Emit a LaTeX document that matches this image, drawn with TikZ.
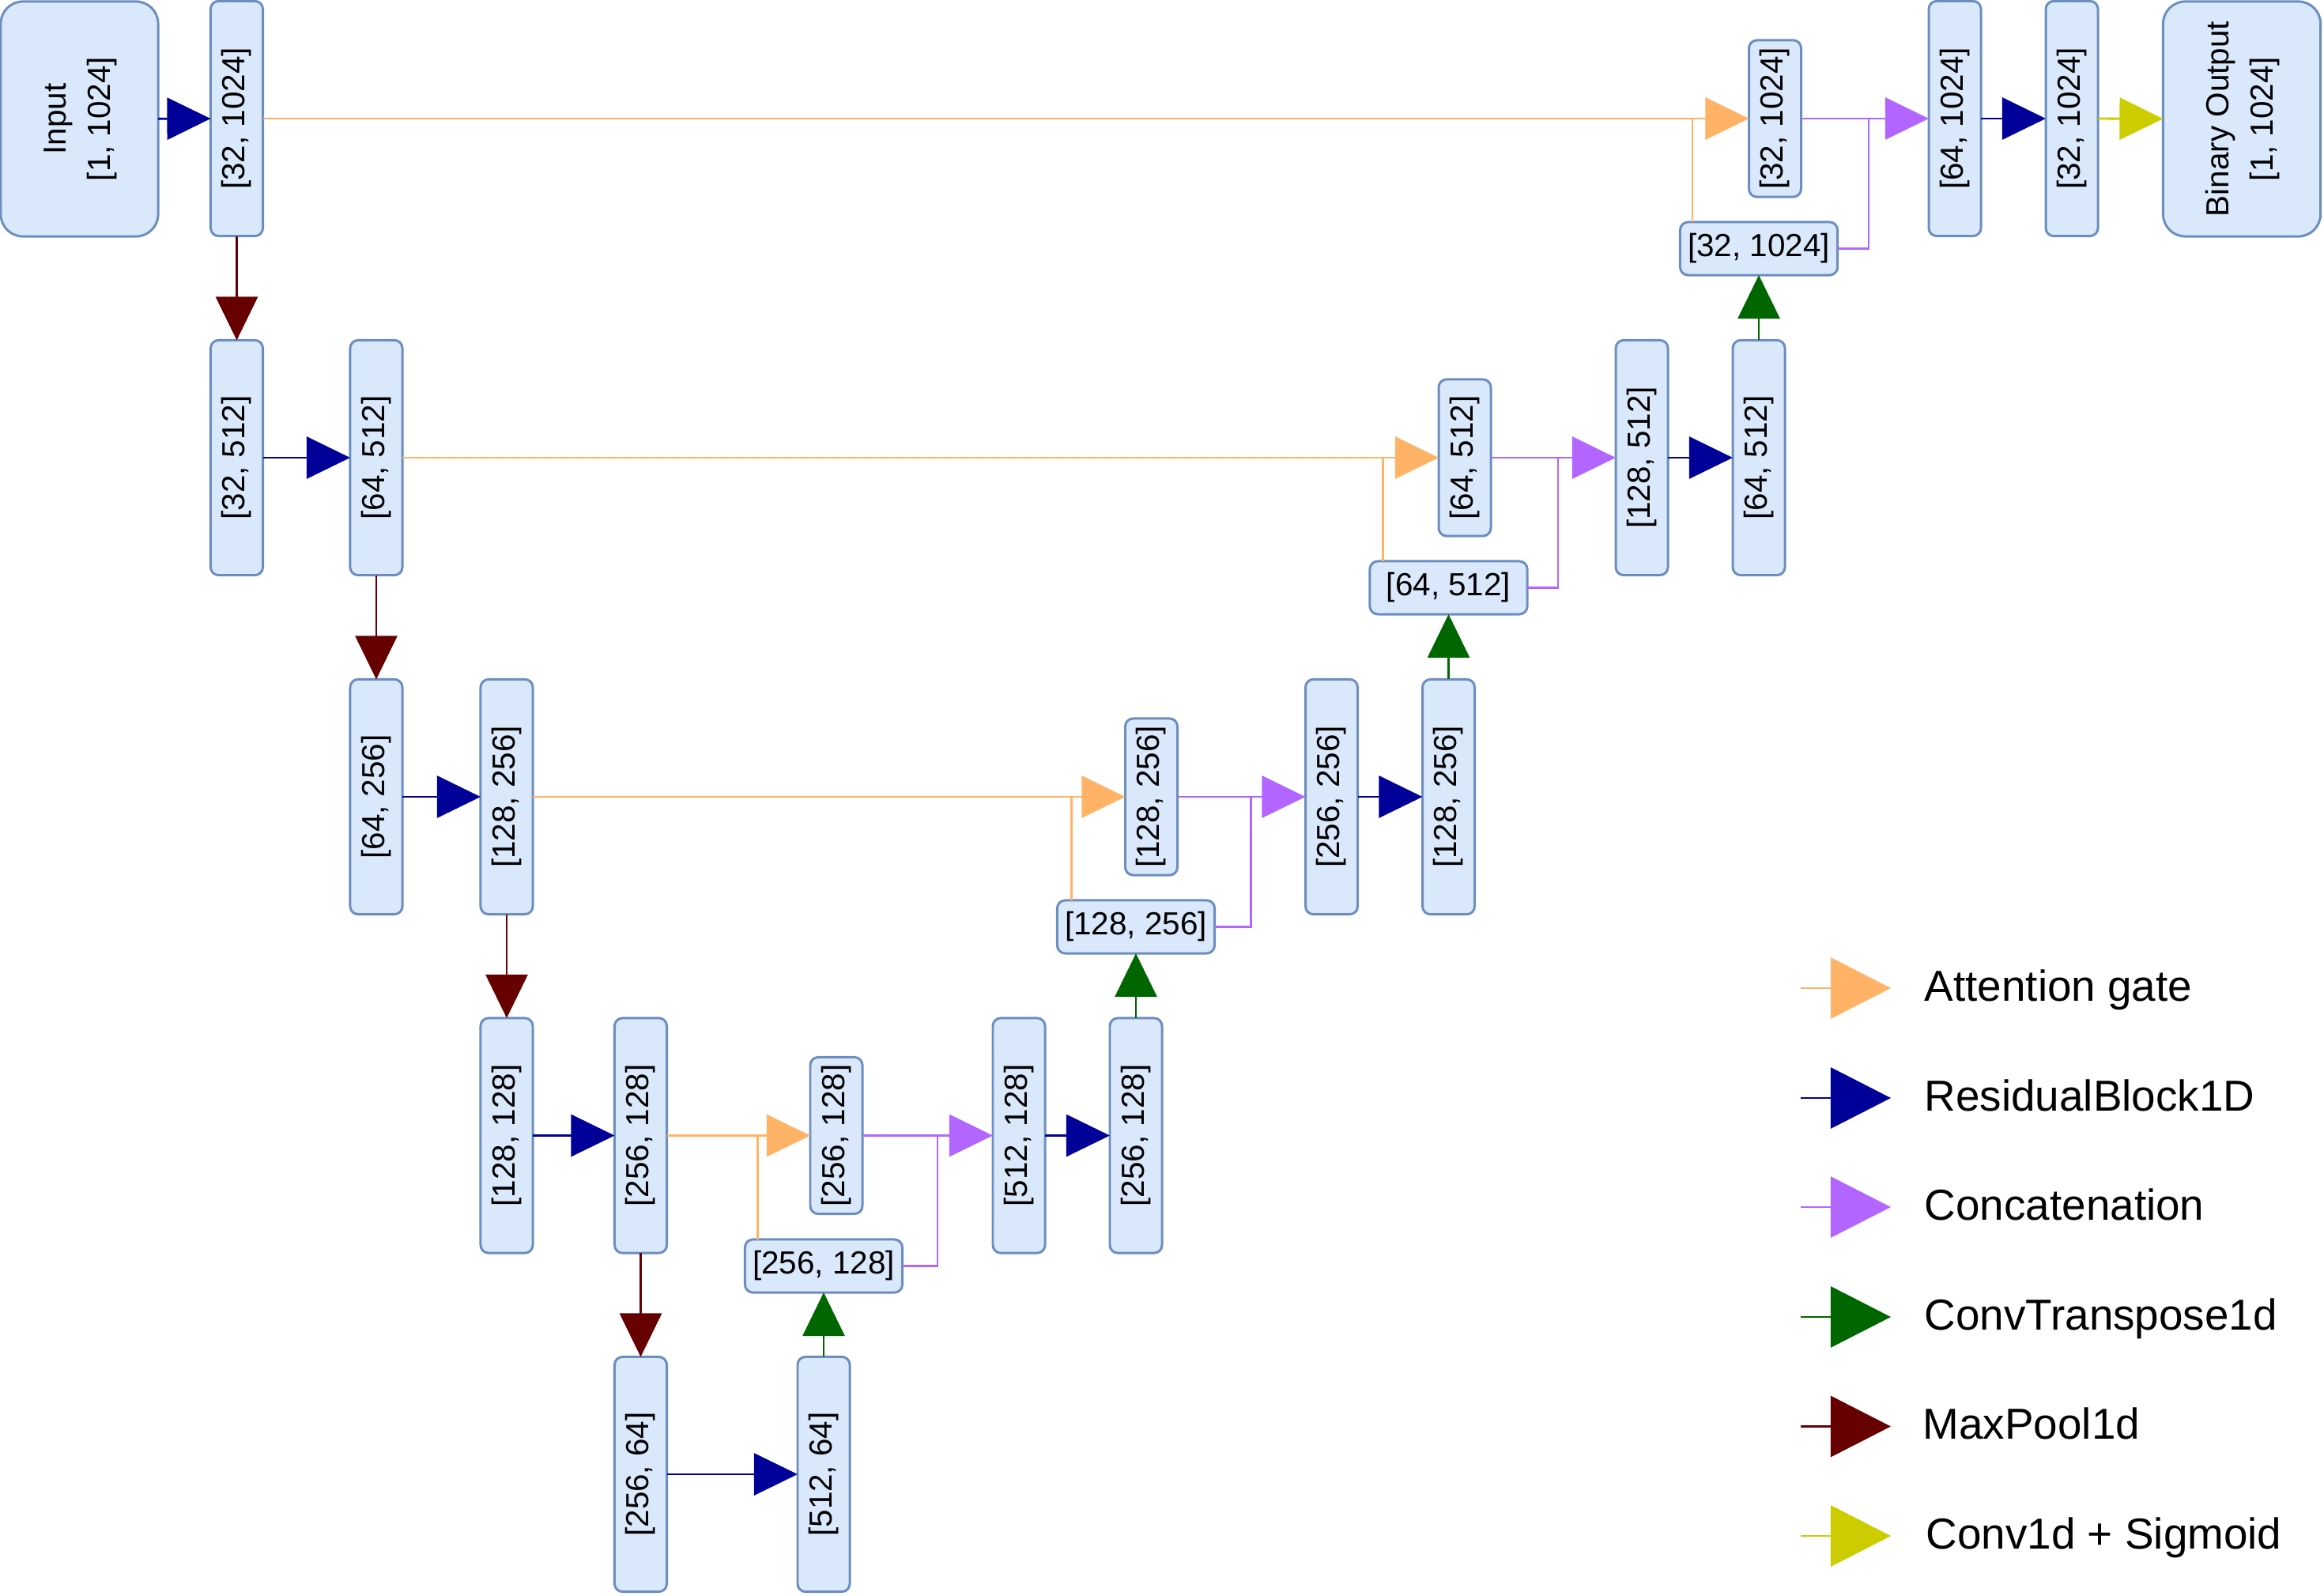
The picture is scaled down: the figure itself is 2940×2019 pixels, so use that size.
\documentclass[tikz,border=0pt]{standalone}
\usepackage{fontspec}
\setmainfont{Liberation Sans}
\usetikzlibrary{arrows.meta,calc}
\definecolor{boxfill}{HTML}{DAE8FC}
\definecolor{boxline}{HTML}{6C8EBF}
\definecolor{corange}{HTML}{FFB366}
\definecolor{cblue}{HTML}{000099}
\definecolor{cpurple}{HTML}{B266FF}
\definecolor{cgreen}{HTML}{006600}
\definecolor{cmaroon}{HTML}{660000}
\definecolor{cyellow}{HTML}{CCCC00}
\newcommand{\vlab}[1]{\rotatebox{90}{#1}}
\tikzset{
  blk/.style={draw=boxline, fill=boxfill, line width=0.85pt, rounded corners=0.1cm,
    inner sep=0pt, outer sep=0pt, font=\fontsize{11.5}{16}\selectfont},
  tall/.style={blk, minimum width=0.66cm, minimum height=2.97cm},
  short/.style={blk, minimum width=0.66cm, minimum height=1.98cm},
  wide/.style={blk, minimum width=1.99cm, minimum height=0.67cm},
  io/.style={blk, rounded corners=0.28cm, minimum width=1.99cm, minimum height=2.97cm},
  arr/.style={line width=0.8pt, -{Triangle[length=0.55cm,width=0.53cm]}},
  res/.style={arr, color=cblue},
  pool/.style={arr, color=cmaroon},
  upc/.style={arr, color=cgreen},
  att/.style={arr, color=corange},
  attl/.style={line width=0.8pt, color=corange},
  cat/.style={arr, color=cpurple},
  catl/.style={line width=0.8pt, color=cpurple},
  sig/.style={arr, color=cyellow},
  legarr/.style={line width=0.8pt, -{Triangle[length=0.76cm,width=0.77cm]}},
  legtext/.style={anchor=base west, inner sep=0pt, font=\fontsize{15.6}{18}\selectfont}
}
\begin{document}
\begin{tikzpicture}[x=0.01cm,y=-0.01cm]
\useasboundingbox (0,0) rectangle (2940,2019);

% ---------- encoder ----------
\node[io] (in) at (100.5,150.5) {\rotatebox{90}{\begin{tabular}{@{}c@{}}Input\\{}[1, 1024]\end{tabular}}};
\node[tall] (e1) at (299.5,150) {\vlab{[32, 1024]}};
\node[tall] (e2a) at (299.5,579) {\vlab{[32, 512]}};
\node[tall] (e2b) at (476,579) {\vlab{[64, 512]}};
\node[tall] (e3a) at (476,1008) {\vlab{[64, 256]}};
\node[tall] (e3b) at (641,1008) {\vlab{[128, 256]}};
\node[tall] (e4a) at (641,1436.5) {\vlab{[128, 128]}};
\node[tall] (e4b) at (810.5,1436.5) {\vlab{[256, 128]}};
\node[tall] (e5a) at (810.5,1865) {\vlab{[256, 64]}};
\node[tall] (e5b) at (1042,1865) {\vlab{[512, 64]}};

% ---------- decoder row 4 ----------
\node[wide] (g4) at (1042,1601.5) {{[256, 128]}};
\node[short] (a4) at (1058,1436.5) {\vlab{[256, 128]}};
\node[tall] (c4) at (1289,1436.5) {\vlab{[512, 128]}};
\node[tall] (d4) at (1437,1436.5) {\vlab{[256, 128]}};

% ---------- decoder row 3 ----------
\node[wide] (g3) at (1437,1172.5) {{[128, 256]}};
\node[short] (a3) at (1456.5,1008) {\vlab{[128, 256]}};
\node[tall] (c3) at (1684.5,1008) {\vlab{[256, 256]}};
\node[tall] (d3) at (1832.5,1008) {\vlab{[128, 256]}};

% ---------- decoder row 2 ----------
\node[wide] (g2) at (1832.5,743.5) {{[64, 512]}};
\node[short] (a2) at (1853,579) {\vlab{[64, 512]}};
\node[tall] (c2) at (2077,579) {\vlab{[128, 512]}};
\node[tall] (d2) at (2225,579) {\vlab{[64, 512]}};

% ---------- decoder row 1 ----------
\node[wide] (g1) at (2225,314.5) {{[32, 1024]}};
\node[short] (a1) at (2245.5,150) {\vlab{[32, 1024]}};
\node[tall] (c1) at (2473,150) {\vlab{[64, 1024]}};
\node[tall] (d1) at (2621,150) {\vlab{[32, 1024]}};
\node[io] (out) at (2836,150.5) {\rotatebox{90}{\begin{tabular}{@{}c@{}}Binary Output\\{}[1, 1024]\end{tabular}}};

% ---------- encoder connectors ----------
\draw[res] (in) -- (e1);
\draw[pool] (e1) -- (e2a);
\draw[res] (e2a) -- (e2b);
\draw[pool] (e2b) -- (e3a);
\draw[res] (e3a) -- (e3b);
\draw[pool] (e3b) -- (e4a);
\draw[res] (e4a) -- (e4b);
\draw[pool] (e4b) -- (e5a);
\draw[res] (e5a) -- (e5b);

% ---------- up-convolutions ----------
\draw[upc] (e5b) -- (g4);
\draw[upc] (d4) -- (g3);
\draw[upc] (d3) -- (g2);
\draw[upc] (d2) -- (g1);

% ---------- attention gates ----------
\draw[att] (e4b) -- (a4);
\draw[att] (e3b) -- (a3);
\draw[att] (e2b) -- (a2);
\draw[att] (e1) -- (a1);
\coordinate (o4) at ($(g4.north west)+(16,0)$);
\coordinate (o3) at ($(g3.north west)+(18,0)$);
\coordinate (o2) at ($(g2.north west)+(16.5,0)$);
\coordinate (o1) at ($(g1.north west)+(15.5,0)$);
\draw[attl] (o4) -- (o4 |- a4.west);
\draw[attl] (o3) -- (o3 |- a3.west);
\draw[attl] (o2) -- (o2 |- a2.west);
\draw[attl] (o1) -- (o1 |- a1.west);

% ---------- concatenations ----------
\draw[cat] (a4) -- (c4);
\draw[cat] (a3) -- (c3);
\draw[cat] (a2) -- (c2);
\draw[cat] (a1) -- (c1);
\coordinate (p4) at ($(c4.west)+(-70,0)$);
\coordinate (p3) at ($(c3.west)+(-69,0)$);
\coordinate (p2) at ($(c2.west)+(-73,0)$);
\coordinate (p1) at ($(c1.west)+(-76,0)$);
\draw[catl] (g4.east) -| (p4);
\draw[catl] (g3.east) -| (p3);
\draw[catl] (g2.east) -| (p2);
\draw[catl] (g1.east) -| (p1);

% ---------- residual blocks in decoder ----------
\draw[res] (c4) -- (d4);
\draw[res] (c3) -- (d3);
\draw[res] (c2) -- (d2);
\draw[res] (c1) -- (d1);
\draw[sig] (d1) -- (out);

% ---------- legend ----------
\coordinate (la1) at (2278,1250);   \coordinate (lb1) at (2392,1250);
\coordinate (la2) at (2278,1389);   \coordinate (lb2) at (2392,1389);
\coordinate (la3) at (2278,1527);   \coordinate (lb3) at (2392,1527);
\coordinate (la4) at (2278,1666);   \coordinate (lb4) at (2392,1666);
\coordinate (la5) at (2278,1804.5); \coordinate (lb5) at (2392,1804.5);
\coordinate (la6) at (2278,1943);   \coordinate (lb6) at (2392,1943);
\draw[legarr, color=corange] (la1) -- (lb1);
\draw[legarr, color=cblue] (la2) -- (lb2);
\draw[legarr, color=cpurple] (la3) -- (lb3);
\draw[legarr, color=cgreen] (la4) -- (lb4);
\draw[legarr, color=cmaroon] (la5) -- (lb5);
\draw[legarr, color=cyellow] (la6) -- (lb6);
\node[legtext] (lt1) at (2434,1266) {Attention gate};
\node[legtext] (lt2) at (2434,1405) {ResidualBlock1D};
\node[legtext] (lt3) at (2434,1543) {Concatenation};
\node[legtext] (lt4) at (2434,1682) {ConvTranspose1d};
\node[legtext] (lt5) at (2432,1820.5) {MaxPool1d};
\node[legtext] (lt6) at (2436,1959) {Conv1d + Sigmoid};
\end{tikzpicture}
\end{document}
